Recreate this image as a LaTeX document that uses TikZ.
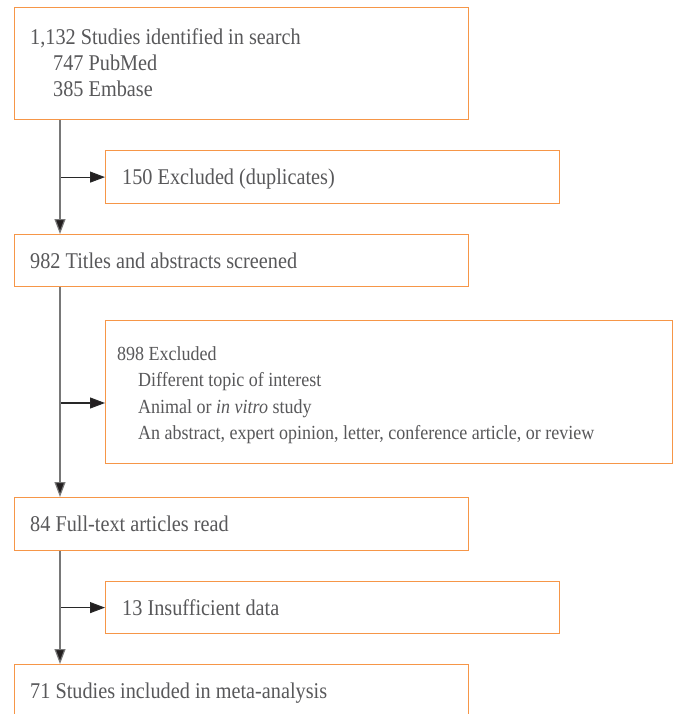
\documentclass[tikz,border=0pt]{standalone}
\usepackage{fontspec}
\setmainfont{Liberation Serif}
\newfontfamily\condfont[FakeStretch=0.9]{Liberation Serif}
\usetikzlibrary{arrows.meta}
\definecolor{boxorange}{RGB}{246,150,72}
\definecolor{txtgray}{RGB}{88,88,90}
\definecolor{tipdark}{RGB}{35,31,32}
\definecolor{vline}{RGB}{120,120,120}
\definecolor{hline}{RGB}{40,40,40}
\begin{document}
\begin{tikzpicture}[x=1pt,y=-1pt,
  box/.style={draw=boxorange, line width=1.2pt, anchor=north west, inner sep=0pt, fill=white},
  txt/.style={anchor=base west, inner sep=0pt, text=txtgray, font=\condfont\fontsize{22.5}{26}\selectfont},
  smalltxt/.style={txt, font=\condfont\fontsize{20}{24}\selectfont},
  tipstyle/.style={-{Triangle[length=15pt,width=11pt,fill=tipdark]}},
  varrow/.style={tipstyle, draw=vline, line width=1.2pt},
  harrow/.style={tipstyle, draw=hline, line width=1.1pt}]
\clip (0,0) rectangle (678,714);
\fill[white] (0,0) rectangle (678,714);
% boxes
\node[box, minimum width=454pt, minimum height=112pt] (b1) at (14,7) {};
\node[box, minimum width=454pt, minimum height=53pt] (b2) at (105,150) {};
\node[box, minimum width=454pt, minimum height=52pt] (b3) at (14,234) {};
\node[box, minimum width=567pt, minimum height=143pt] (b4) at (105,320) {};
\node[box, minimum width=454pt, minimum height=53pt] (b5) at (14,497) {};
\node[box, minimum width=454pt, minimum height=52pt] (b6) at (105,581) {};
\node[box, minimum width=454pt, minimum height=90pt] (b7) at (14,664) {};
% texts
\node[txt] (t1a) at (30,45) {1,132 Studies identified in search};
\node[txt] (t1b) at (53,71) {747 PubMed};
\node[txt] (t1c) at (53,97) {385 Embase};
\node[txt] (t2) at (122,185) {150 Excluded (duplicates)};
\node[txt] (t3) at (30,268) {982 Titles and abstracts screened};
\node[smalltxt] (t4a) at (117,360) {898 Excluded};
\node[smalltxt] (t4b) at (138,386) {Different topic of interest};
\node[smalltxt] (t4c) at (138,413) {Animal or \textit{in vitro} study};
\node[smalltxt] (t4d) at (138,439) {An abstract, expert opinion, letter, conference article, or review};
\node[txt] (t5) at (30,531) {84 Full-text articles read};
\node[txt] (t6) at (122,615) {13 Insufficient data};
\node[txt] (t7) at (30,698) {71 Studies included in meta-analysis};
% connectors
\coordinate (v) at (60,0);
\coordinate (j2) at (60,403);
\draw[harrow] (b2.west -| v) -- (b2.west);
\draw[harrow] (j2) -- (j2 -| b4.west);
\draw[harrow] (b6.west -| v) -- (b6.west);
\draw[varrow] (b1.south -| v) -- (b3.north -| v);
\draw[varrow] (b3.south -| v) -- (b5.north -| v);
\draw[varrow] (b5.south -| v) -- (b7.north -| v);
\end{tikzpicture}
\end{document}
